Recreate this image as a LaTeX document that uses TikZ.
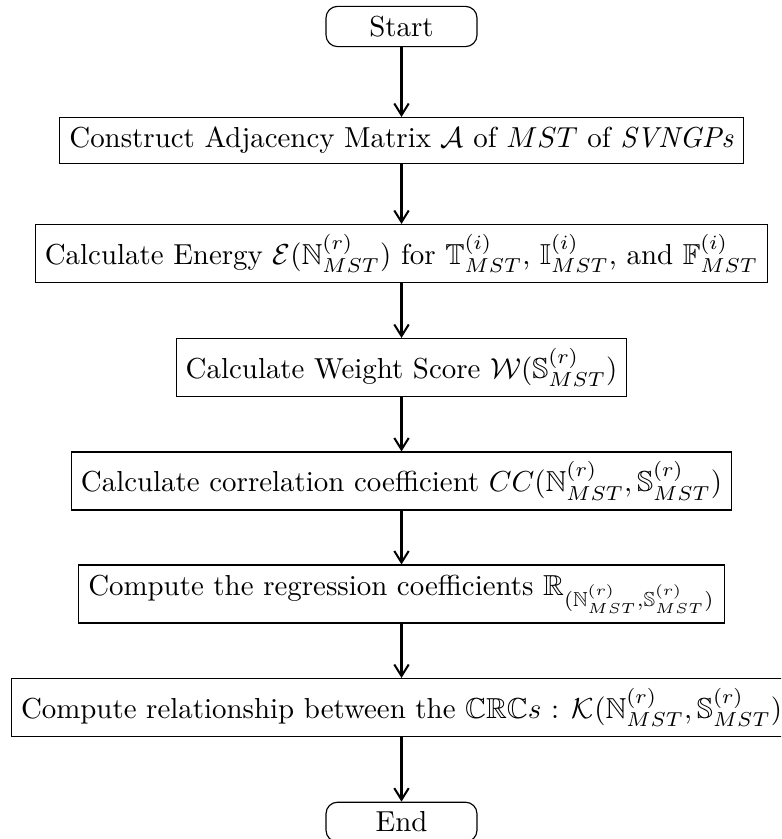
\documentclass[tikz,border=0pt]{standalone}
\usepackage{amssymb}
\usetikzlibrary{arrows.meta}
\begin{document}
\begin{tikzpicture}[x=0.346pt,y=-0.346pt,
  procbox/.style={draw, rectangle, line width=0.4pt, inner sep=3.33pt},
  termbox/.style={draw, rectangle, rounded corners=4pt, line width=0.4pt, minimum width=151*0.346pt, minimum height=39*0.346pt, inner sep=3.33pt},
  flowarrow/.style={-{Straight Barb[length=4pt,width=5pt]}, line width=0.7pt}]
\clip (0,0) rectangle (781,839);
\useasboundingbox (0,0) rectangle (781,839);
\node[termbox] (start) at (401.5,26.5) {Start};
\node[procbox] (b1) at (401.5,140.5) {Construct Adjacency Matrix $\mathcal{A}$ of $MST$ of \textit{SVNGPs}};
\node[procbox] (b2) at (401.5,253.5) {Calculate Energy $\mathcal{E}(\mathbb{N}^{(r)}_{MST})$ for $\mathbb{T}^{(i)}_{MST}$, $\mathbb{I}^{(i)}_{MST}$, and $\mathbb{F}^{(i)}_{MST}$};
\node[procbox] (b3) at (401.5,367.5) {Calculate Weight Score $\mathcal{W}(\mathbb{S}^{(r)}_{MST})$};
\node[procbox] (b4) at (401.5,481) {Calculate correlation coefficient $CC(\mathbb{N}^{(r)}_{MST}, \mathbb{S}^{(r)}_{MST})$};
\node[procbox] (b5) at (401.5,594) {Compute the regression coefficients $\mathbb{R}_{(\mathbb{N}^{(r)}_{MST},\mathbb{S}^{(r)}_{MST})}$};
\node[procbox] (b6) at (401.5,707.5) {Compute relationship between the $\mathbb{CRC}s$ : $\mathcal{K}(\mathbb{N}^{(r)}_{MST}, \mathbb{S}^{(r)}_{MST})$};
\node[termbox] (end) at (401.5,822) {End};
\draw[flowarrow] (start) -- (b1);
\draw[flowarrow] (b1) -- (b2);
\draw[flowarrow] (b2) -- (b3);
\draw[flowarrow] (b3) -- (b4);
\draw[flowarrow] (b4) -- (b5);
\draw[flowarrow] (b5) -- (b6);
\draw[flowarrow] (b6) -- (end);
\end{tikzpicture}
\end{document}
